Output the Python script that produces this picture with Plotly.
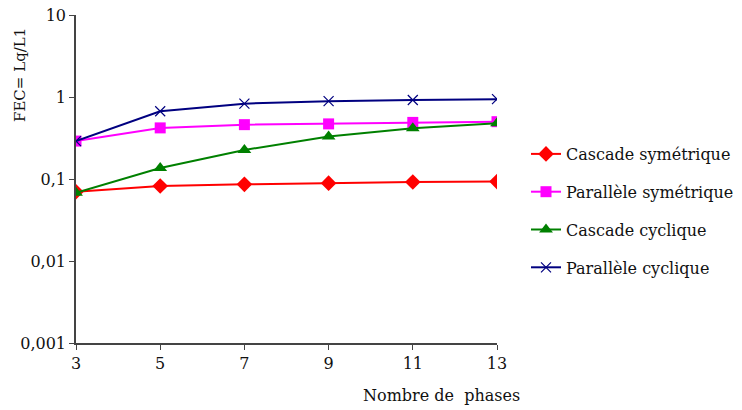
import plotly.graph_objects as go

phases = [3, 5, 7, 9, 11, 13]
cascade_sym = [0.070, 0.082, 0.086, 0.089, 0.092, 0.093]
parallele_sym = [0.29, 0.42, 0.46, 0.47, 0.49, 0.50]
cascade_cyc = [0.068, 0.136, 0.226, 0.33, 0.415, 0.48]
parallele_cyc = [0.29, 0.67, 0.83, 0.89, 0.92, 0.94]
names = ["Cascade symétrique", "Parallèle symétrique", "Cascade cyclique", "Parallèle cyclique"]
y_ticks = [0.001, 0.01, 0.1, 1, 10]
y_ticklabels = ["0,001", "0,01", "0,1", "1", "10"]

FONT = "DejaVu Serif"
ML, MR, MT, MB = 76, 245, 15, 67
W, H = 742, 410

fig = go.Figure()
series = [
    (cascade_sym, "#ff0000", dict(symbol="diamond", size=12, color="#ff0000")),
    (parallele_sym, "#ff00ff", dict(symbol="square", size=11, color="#ff00ff")),
    (cascade_cyc, "#008000", dict(symbol="triangle-up", size=12, color="#008000")),
    (parallele_cyc, "#000080", dict(symbol="x-thin", size=10, color="#000080",
                                    line=dict(color="#000080", width=1.2))),
]
for i, (vals, col, mk) in enumerate(series):
    fig.add_trace(go.Scatter(
        x=phases, y=vals, name=names[i], mode="lines+markers",
        line=dict(color=col, width=2), marker=mk, legendgroup=str(i),
    ))

plot_w = W - ML - MR
plot_h = H - MT - MB

fig.update_layout(
    width=W, height=H,
    margin=dict(l=ML, r=MR, t=MT, b=MB, autoexpand=False),
    paper_bgcolor="white", plot_bgcolor="white",
    font=dict(family=FONT, size=15, color="#111111"),
    showlegend=True,
    legend=dict(x=(526 - ML) / plot_w, y=(H - MB - 211) / plot_h, xanchor="left", yanchor="middle",
                font=dict(family=FONT, size=16, color="#111111"),
                tracegroupgap=14, itemwidth=30, bgcolor="rgba(0,0,0,0)"),
    xaxis=dict(range=[3, 13], tickvals=phases, ticks="outside", ticklen=5,
               tickcolor="#444", showline=True, linecolor="#444", linewidth=1.5,
               showgrid=False, zeroline=False, automargin=False,
               tickfont=dict(size=16, family=FONT)),
    yaxis=dict(type="log", range=[-3, 1], tickvals=y_ticks, ticktext=y_ticklabels,
               ticks="outside", ticklen=5, tickcolor="#444", showline=True,
               linecolor="#444", linewidth=1.5, showgrid=False, zeroline=False,
               automargin=False, tickfont=dict(size=16, family=FONT)),
    annotations=[
        dict(text="FEC= Lq/L1", textangle=-90,
             x=(20 - ML) / plot_w, y=(H - MB - 75) / plot_h,
             xref="paper", yref="paper", xanchor="center", yanchor="middle",
             showarrow=False, font=dict(size=15, family=FONT)),
        dict(text="Nombre de  phases",
             x=(441 - ML) / plot_w, y=(H - MB - 395) / plot_h,
             xref="paper", yref="paper", xanchor="center", yanchor="middle",
             showarrow=False, font=dict(size=16, family=FONT)),
    ],
)

fig.write_html("out.html", config={"displayModeBar": False},
               post_script="document.body.style.margin='0';document.body.style.overflow='hidden';")
